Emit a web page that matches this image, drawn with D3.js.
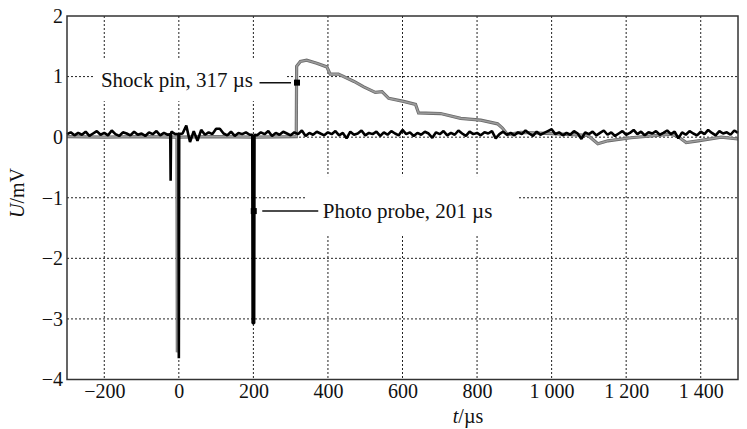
<!DOCTYPE html>
<html>
<head>
<meta charset="utf-8">
<script src="https://cdn.jsdelivr.net/npm/d3@7"></script>
<style>
  body { margin: 0; background: #fff; }
  svg { display: block; }
  text { font-family: "Liberation Serif", "Times New Roman", serif; fill: #111; }
</style>
</head>
<body>
<svg id="chart" width="747" height="429"></svg>
<script>
// ---------------- data ----------------
const xTicks = [-200, 0, 200, 400, 600, 800, 1000, 1200, 1400];
const xTickLabels = ["\u2212200", "0", "200", "400", "600", "800", "1 000", "1 200", "1 400"];
const yTicks = [-4, -3, -2, -1, 0, 1, 2];
const yTickLabels = ["\u22124", "\u22123", "\u22122", "\u22121", "0", "1", "2"];

// Photo probe channel: baseline samples every 10 µs from -300 to 1500 (values in 0.01 mV)
const probeStart = -300, probeStep = 10;
const probeBaseline = [
  5, 8, 3, 7, 4, 9, 2, 6, 10, 4,
  7, 3, 11, 5, 2, 8, 6, 3, 9, 4,
  6, 2, 8, 5, 10, 3, 7, 4, 9, 5,
  3, 6, 19, -8, 10, -6, 12, 4, 8, 5,
  14, 14, 6, 3, 9, 2, 7, 5, 8, 4,
  6, 3, 8, 5, 10, 2, 7, 4, 9, 6,
  3, 8, 5, 11, 2, 7, 4, 9, 6, 3,
  8, 5, 10, 3, 7, -2, 9, 4, 6, 11,
  3, 7, 5, 9, 2, 8, 4, 10, 6, 3,
  12, 5, 8, 2, 7, 4, 9, 6, -1, 8,
  5, 10, 3, 7, 4, 11, 6, 2, 9, 5,
  7, 3, 8, 6, 10, -2, 5, 9, 4, 7,
  3, 8, 5, 11, 6, 2, 9, 4, 7, 10,
  13, 5, 8, 3, 7, 4, 10, 6, -3, 8,
  5, 9, 3, 7, 11, 4, 8, 2, 6, 10,
  4, 7, 12, 5, 9, 3, 8, 6, 10, 4,
  7, 11, 5, 9, -2, 8, 4, 10, 6, 3,
  9, 5, 12, 7, 3, 10, 6, 8, 4, 11,
  7
];
// Photo probe spikes (t in µs, U in mV)
const probeSpikeT = [-23, -22, -21, -1, 0, 1, 197, 198, 202, 203];
const probeSpikeU = [0.05, -0.72, 0.05, 0.05, -3.65, 0.05, 0.04, -3.07, -3.07, 0.04];

// Shock pin channel (t in µs, U in mV)
const pinT = [-300, -200, -100, -10, -5, -4, -3, 100, 200, 315, 316, 326, 343, 370, 397, 406, 428, 470, 496, 527, 545, 563, 603, 635, 643, 702, 756, 810, 855, 868, 882, 917, 1000, 1097, 1124, 1151, 1213, 1321, 1339, 1361, 1393, 1455, 1500];
const pinU = [0.01, 0.00, 0.01, 0.00, 0.00, -3.55, 0.00, 0.01, 0.00, 0.01, 1.17, 1.25, 1.27, 1.22, 1.16, 1.04, 1.04, 0.92, 0.83, 0.74, 0.75, 0.64, 0.59, 0.54, 0.40, 0.39, 0.31, 0.28, 0.22, 0.15, 0.04, 0.08, 0.06, 0.03, -0.11, -0.06, -0.01, 0.05, 0.01, -0.09, -0.06, 0.00, -0.03];

// Annotations
const annoLabels = ["Shock pin, 317 \u00b5s", "Photo probe, 201 \u00b5s"];
const annoT = [317, 201];
const annoU = [0.9, -1.22];

// ---------------- chart ----------------
const svg = d3.select("#chart");
const pLeft = 67, pRight = 738, pTop = 16, pBottom = 379.5;

const x = d3.scaleLinear().domain([-300, 1500]).range([pLeft, pRight]);
const y = d3.scaleLinear().domain([-4, 2]).range([pBottom, pTop]);

// Grid
const grid = svg.append("g");
grid.selectAll("line.v").data(xTicks).join("line")
  .attr("x1", d => x(d)).attr("x2", d => x(d))
  .attr("y1", pTop).attr("y2", pBottom)
  .attr("stroke", "#222").attr("stroke-width", 1).attr("stroke-dasharray", "2,2");
grid.selectAll("line.h").data(yTicks.filter(d => d > -4 && d < 2)).join("line")
  .attr("x1", pLeft).attr("x2", pRight)
  .attr("y1", d => y(d)).attr("y2", d => y(d))
  .attr("stroke", "#222").attr("stroke-width", 1).attr("stroke-dasharray", "2,2");

// White boxes behind annotations (break grid lines)
const m0 = [x(annoT[0]), y(annoU[0])];
const m1 = [x(annoT[1]), y(annoU[1])];
svg.append("rect").attr("x", m0[0] - 204).attr("y", m0[1] - 23.5)
  .attr("width", 194).attr("height", 42).attr("fill", "#fff");
svg.append("rect").attr("x", m1[0] + 52).attr("y", m1[1] - 35)
  .attr("width", 212).attr("height", 59).attr("fill", "#fff");

// Series
const probe = probeBaseline.map((v, i) => ({ t: probeStart + i * probeStep, u: v / 100 }))
  .filter(p => !((p.t >= -23 && p.t <= -21) || (p.t >= -1 && p.t <= 1) || (p.t >= 197 && p.t <= 203)))
  .concat(probeSpikeT.map((t, i) => ({ t: t, u: probeSpikeU[i] })))
  .sort((a, b) => a.t - b.t);
const pin = pinT.map((t, i) => ({ t: t, u: pinU[i] }));

const line = d3.line().x(d => x(d.t)).y(d => y(d.u));

// shock pin (gray, drawn first)
svg.append("path").datum(pin).attr("d", line)
  .attr("fill", "none").attr("stroke", "#6a6a6a").attr("stroke-width", 3.2);
svg.append("path").datum(pin).attr("d", line)
  .attr("fill", "none").attr("stroke", "#9c9c9c").attr("stroke-width", 1.6);

// photo probe (black, on top)
svg.append("path").datum(probe).attr("d", line)
  .attr("fill", "none").attr("stroke", "#000").attr("stroke-width", 2.6)
  .attr("stroke-linejoin", "bevel");

// Annotations
svg.append("line").attr("x1", m0[0] - 37.5).attr("x2", m0[0] - 6)
  .attr("y1", m0[1]).attr("y2", m0[1]).attr("stroke", "#111").attr("stroke-width", 1.5);
svg.append("rect").attr("x", m0[0] - 3).attr("y", m0[1] - 3).attr("width", 6).attr("height", 6).attr("fill", "#000");
svg.append("text").attr("x", m0[0] - 44).attr("y", m0[1] + 4).attr("text-anchor", "end")
  .style("font-size", "21px").text(annoLabels[0]);

svg.append("line").attr("x1", m1[0] + 8.5).attr("x2", m1[0] + 64.5)
  .attr("y1", m1[1]).attr("y2", m1[1]).attr("stroke", "#111").attr("stroke-width", 1.5);
svg.append("rect").attr("x", m1[0] - 3).attr("y", m1[1] - 3).attr("width", 6).attr("height", 6).attr("fill", "#000");
svg.append("text").attr("x", m1[0] + 69).attr("y", m1[1] + 6.5).attr("text-anchor", "start")
  .style("font-size", "21px").text(annoLabels[1]);

// Frame
svg.append("rect").attr("x", pLeft).attr("y", pTop).attr("width", pRight - pLeft).attr("height", pBottom - pTop)
  .attr("fill", "none").attr("stroke", "#333").attr("stroke-width", 1.5);

// Axes
const xAxis = d3.axisBottom(x).tickValues(xTicks).tickSize(0).tickPadding(4)
  .tickFormat((d, i) => xTickLabels[i]);
const gx = svg.append("g").attr("transform", `translate(0,${pBottom})`).call(xAxis);
gx.select(".domain").remove();
gx.selectAll("text").attr("fill", "#111").style("font-family", '"Liberation Serif", serif').style("font-size", "20px");

const yAxis = d3.axisLeft(y).tickValues(yTicks).tickSize(0).tickPadding(4)
  .tickFormat((d, i) => yTickLabels[i]);
const gy = svg.append("g").attr("transform", `translate(${pLeft},0)`).call(yAxis);
gy.select(".domain").remove();
gy.selectAll("text").attr("fill", "#111").style("font-family", '"Liberation Serif", serif').style("font-size", "20px");

// Axis titles
const yt = svg.append("text").attr("transform", "translate(24,193) rotate(-90)")
  .attr("text-anchor", "middle").style("font-size", "20px");
yt.append("tspan").style("font-style", "italic").text("U");
yt.append("tspan").text("/mV");

const xt = svg.append("text").attr("x", 468).attr("y", 423)
  .attr("text-anchor", "middle").style("font-size", "20px");
xt.append("tspan").style("font-style", "italic").text("t");
xt.append("tspan").text("/\u00b5s");
</script>
</body>
</html>
